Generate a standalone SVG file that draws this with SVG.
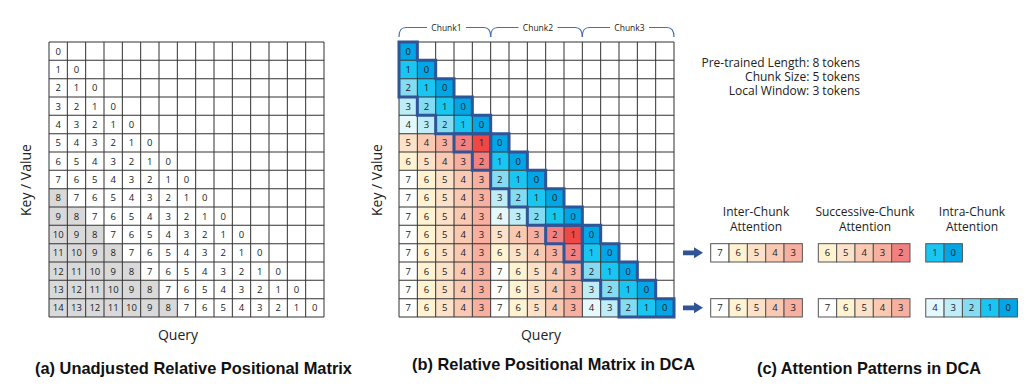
<svg xmlns="http://www.w3.org/2000/svg" width="1024" height="392" viewBox="0 0 1024 392">
<style>
.grid{fill:none;stroke:#333;stroke-width:0.55}
.num{font-family:"Open Sans","Noto Sans",sans-serif;font-size:5.2px;fill:#222;text-anchor:middle}
.b0{fill:#02A6E6}.b1{fill:#19C6F2}.b2{fill:#85DBF2}.b3{fill:#BEEDF8}.b4{fill:#E5F8FC}
.w1{fill:#EF4646}.w2{fill:#F28080}.w3{fill:#F7AFA0}.w4{fill:#FAC9B2}.w5{fill:#FDE2CA}.w6{fill:#FFF3D2}.w7{fill:#FFFFFF}
.gr{fill:#D9D9D9}
.band{fill:none;stroke:#2F5597;stroke-width:1.65;stroke-linejoin:miter}
.bx{stroke:#555;stroke-width:0.55}
.lbl{font-family:"Open Sans","Noto Sans",sans-serif;font-size:14px;fill:#222;text-anchor:middle}
.info{font-family:"Open Sans","Noto Sans",sans-serif;font-size:12px;fill:#222;text-anchor:end}
.hdr{font-family:"Open Sans","Noto Sans",sans-serif;font-size:12px;fill:#222;text-anchor:middle}
.chunk{font-family:"Open Sans","Noto Sans",sans-serif;font-size:8.5px;fill:#222;text-anchor:middle}
.brace{fill:none;stroke:#4A6CA8;stroke-width:1.2}
.cap{font-family:"Liberation Sans Narrow","Arial Narrow","Liberation Sans",sans-serif;font-weight:bold;font-size:17px;fill:#111}
.arrow{fill:#2F5597}
</style>
<rect width="1024" height="392" fill="#fff"/>

<g id="panel-a">
<g transform="translate(49,42) scale(1.83333)">
<path class="gr" d="M0 80h10v10h10v10h10v10h10v10h10v10h10v10h10v10h-70z"/>
<path class="grid" d="M0 0H150M0 10H150M0 20H150M0 30H150M0 40H150M0 50H150M0 60H150M0 70H150M0 80H150M0 90H150M0 100H150M0 110H150M0 120H150M0 130H150M0 140H150M0 150H150M0 0V150M10 0V150M20 0V150M30 0V150M40 0V150M50 0V150M60 0V150M70 0V150M80 0V150M90 0V150M100 0V150M110 0V150M120 0V150M130 0V150M140 0V150M150 0V150"/>
<g class="num">
<text y="6.9"><tspan x="5">0</tspan></text>
<text y="16.9"><tspan x="5">1</tspan><tspan x="15">0</tspan></text>
<text y="26.9"><tspan x="5">2</tspan><tspan x="15">1</tspan><tspan x="25">0</tspan></text>
<text y="36.9"><tspan x="5">3</tspan><tspan x="15">2</tspan><tspan x="25">1</tspan><tspan x="35">0</tspan></text>
<text y="46.9"><tspan x="5">4</tspan><tspan x="15">3</tspan><tspan x="25">2</tspan><tspan x="35">1</tspan><tspan x="45">0</tspan></text>
<text y="56.9"><tspan x="5">5</tspan><tspan x="15">4</tspan><tspan x="25">3</tspan><tspan x="35">2</tspan><tspan x="45">1</tspan><tspan x="55">0</tspan></text>
<text y="66.9"><tspan x="5">6</tspan><tspan x="15">5</tspan><tspan x="25">4</tspan><tspan x="35">3</tspan><tspan x="45">2</tspan><tspan x="55">1</tspan><tspan x="65">0</tspan></text>
<text y="76.9"><tspan x="5">7</tspan><tspan x="15">6</tspan><tspan x="25">5</tspan><tspan x="35">4</tspan><tspan x="45">3</tspan><tspan x="55">2</tspan><tspan x="65">1</tspan><tspan x="75">0</tspan></text>
<text y="86.9"><tspan x="5">8</tspan><tspan x="15">7</tspan><tspan x="25">6</tspan><tspan x="35">5</tspan><tspan x="45">4</tspan><tspan x="55">3</tspan><tspan x="65">2</tspan><tspan x="75">1</tspan><tspan x="85">0</tspan></text>
<text y="96.9"><tspan x="5">9</tspan><tspan x="15">8</tspan><tspan x="25">7</tspan><tspan x="35">6</tspan><tspan x="45">5</tspan><tspan x="55">4</tspan><tspan x="65">3</tspan><tspan x="75">2</tspan><tspan x="85">1</tspan><tspan x="95">0</tspan></text>
<text y="106.9"><tspan x="5">10</tspan><tspan x="15">9</tspan><tspan x="25">8</tspan><tspan x="35">7</tspan><tspan x="45">6</tspan><tspan x="55">5</tspan><tspan x="65">4</tspan><tspan x="75">3</tspan><tspan x="85">2</tspan><tspan x="95">1</tspan><tspan x="105">0</tspan></text>
<text y="116.9"><tspan x="5">11</tspan><tspan x="15">10</tspan><tspan x="25">9</tspan><tspan x="35">8</tspan><tspan x="45">7</tspan><tspan x="55">6</tspan><tspan x="65">5</tspan><tspan x="75">4</tspan><tspan x="85">3</tspan><tspan x="95">2</tspan><tspan x="105">1</tspan><tspan x="115">0</tspan></text>
<text y="126.9"><tspan x="5">12</tspan><tspan x="15">11</tspan><tspan x="25">10</tspan><tspan x="35">9</tspan><tspan x="45">8</tspan><tspan x="55">7</tspan><tspan x="65">6</tspan><tspan x="75">5</tspan><tspan x="85">4</tspan><tspan x="95">3</tspan><tspan x="105">2</tspan><tspan x="115">1</tspan><tspan x="125">0</tspan></text>
<text y="136.9"><tspan x="5">13</tspan><tspan x="15">12</tspan><tspan x="25">11</tspan><tspan x="35">10</tspan><tspan x="45">9</tspan><tspan x="55">8</tspan><tspan x="65">7</tspan><tspan x="75">6</tspan><tspan x="85">5</tspan><tspan x="95">4</tspan><tspan x="105">3</tspan><tspan x="115">2</tspan><tspan x="125">1</tspan><tspan x="135">0</tspan></text>
<text y="146.9"><tspan x="5">14</tspan><tspan x="15">13</tspan><tspan x="25">12</tspan><tspan x="35">11</tspan><tspan x="45">10</tspan><tspan x="55">9</tspan><tspan x="65">8</tspan><tspan x="75">7</tspan><tspan x="85">6</tspan><tspan x="95">5</tspan><tspan x="105">4</tspan><tspan x="115">3</tspan><tspan x="125">2</tspan><tspan x="135">1</tspan><tspan x="145">0</tspan></text>
</g>
</g>
<text class="lbl" transform="translate(31,180) rotate(-90)">Key / Value</text>
<text class="lbl" x="178" y="340">Query</text>
<text class="cap" x="35" y="374" textLength="317" lengthAdjust="spacingAndGlyphs">(a) Unadjusted Relative Positional Matrix</text>
</g>

<g id="panel-b">
<g id="chunk-braces">
<path class="brace" d="M399 37C399 31 400.5 27.5 406 27.5H427M466 27.5H484C489.2 27.5 490.7 31 490.7 37"/>
<path class="brace" d="M490.7 37C490.7 31 492.2 27.5 497.7 27.5H518.5M557.5 27.5H575.3C580.8 27.5 582.3 31 582.3 37"/>
<path class="brace" d="M582.3 37C582.3 31 583.8 27.5 589.3 27.5H610M649 27.5H667C672.5 27.5 674 31 674 37"/>
<text class="chunk" x="446.5" y="30.5">Chunk1</text>
<text class="chunk" x="538" y="30.5">Chunk2</text>
<text class="chunk" x="629.5" y="30.5">Chunk3</text>
</g>
<g transform="translate(399,42) scale(1.83333)">
<path class="b0" d="M0 0h10v10h-10zM10 10h10v10h-10zM20 20h10v10h-10zM30 30h10v10h-10zM40 40h10v10h-10zM50 50h10v10h-10zM60 60h10v10h-10zM70 70h10v10h-10zM80 80h10v10h-10zM90 90h10v10h-10zM100 100h10v10h-10zM110 110h10v10h-10zM120 120h10v10h-10zM130 130h10v10h-10zM140 140h10v10h-10z"/>
<path class="b1" d="M0 10h10v10h-10zM10 20h10v10h-10zM20 30h10v10h-10zM30 40h10v10h-10zM50 60h10v10h-10zM60 70h10v10h-10zM70 80h10v10h-10zM80 90h10v10h-10zM100 110h10v10h-10zM110 120h10v10h-10zM120 130h10v10h-10zM130 140h10v10h-10z"/>
<path class="b2" d="M0 20h10v10h-10zM10 30h10v10h-10zM20 40h10v10h-10zM50 70h10v10h-10zM60 80h10v10h-10zM70 90h10v10h-10zM100 120h10v10h-10zM110 130h10v10h-10zM120 140h10v10h-10z"/>
<path class="b3" d="M0 30h10v10h-10zM10 40h10v10h-10zM50 80h10v10h-10zM60 90h10v10h-10zM100 130h10v10h-10zM110 140h10v10h-10z"/>
<path class="b4" d="M0 40h10v10h-10zM50 90h10v10h-10zM100 140h10v10h-10z"/>
<path class="w1" d="M40 50h10v10h-10zM90 100h10v10h-10z"/>
<path class="w2" d="M30 50h10v10h-10zM40 60h10v10h-10zM80 100h10v10h-10zM90 110h10v10h-10z"/>
<path class="w3" d="M20 50h10v10h-10zM30 60h10v10h-10zM40 70h10v80h-10zM70 100h10v10h-10zM80 110h10v10h-10zM90 120h10v30h-10z"/>
<path class="w4" d="M10 50h10v10h-10zM20 60h10v10h-10zM30 70h10v80h-10zM60 100h10v10h-10zM70 110h10v10h-10zM80 120h10v30h-10z"/>
<path class="w5" d="M0 50h10v10h-10zM10 60h10v10h-10zM20 70h10v80h-10zM50 100h10v10h-10zM60 110h10v10h-10zM70 120h10v30h-10z"/>
<path class="w6" d="M0 60h10v10h-10zM10 70h10v80h-10zM50 110h10v10h-10zM60 120h10v30h-10z"/>
<path class="grid" d="M0 0H150M0 10H150M0 20H150M0 30H150M0 40H150M0 50H150M0 60H150M0 70H150M0 80H150M0 90H150M0 100H150M0 110H150M0 120H150M0 130H150M0 140H150M0 150H150M0 0V150M10 0V150M20 0V150M30 0V150M40 0V150M50 0V150M60 0V150M70 0V150M80 0V150M90 0V150M100 0V150M110 0V150M120 0V150M130 0V150M140 0V150M150 0V150"/>
<g id="local-window">
<path class="band" d="M0 0H10V10H20V20H30V30H40V40H50V50H20V40H10V30H0Z"/>
<path class="band" d="M50 50H60V60H70V70H80V80H90V90H100V100H70V90H60V80H50Z"/>
<path class="band" d="M100 100H110V110H120V120H130V130H140V140H150V150H120V140H110V130H100Z"/>
<path class="band" d="M30 50H50V70H40V60H30Z"/>
<path class="band" d="M80 100H100V120H90V110H80Z"/>
</g>
<g class="num">
<text y="6.9"><tspan x="5">0</tspan></text>
<text y="16.9"><tspan x="5">1</tspan><tspan x="15">0</tspan></text>
<text y="26.9"><tspan x="5">2</tspan><tspan x="15">1</tspan><tspan x="25">0</tspan></text>
<text y="36.9"><tspan x="5">3</tspan><tspan x="15">2</tspan><tspan x="25">1</tspan><tspan x="35">0</tspan></text>
<text y="46.9"><tspan x="5">4</tspan><tspan x="15">3</tspan><tspan x="25">2</tspan><tspan x="35">1</tspan><tspan x="45">0</tspan></text>
<text y="56.9"><tspan x="5">5</tspan><tspan x="15">4</tspan><tspan x="25">3</tspan><tspan x="35">2</tspan><tspan x="45">1</tspan><tspan x="55">0</tspan></text>
<text y="66.9"><tspan x="5">6</tspan><tspan x="15">5</tspan><tspan x="25">4</tspan><tspan x="35">3</tspan><tspan x="45">2</tspan><tspan x="55">1</tspan><tspan x="65">0</tspan></text>
<text y="76.9"><tspan x="5">7</tspan><tspan x="15">6</tspan><tspan x="25">5</tspan><tspan x="35">4</tspan><tspan x="45">3</tspan><tspan x="55">2</tspan><tspan x="65">1</tspan><tspan x="75">0</tspan></text>
<text y="86.9"><tspan x="5">7</tspan><tspan x="15">6</tspan><tspan x="25">5</tspan><tspan x="35">4</tspan><tspan x="45">3</tspan><tspan x="55">3</tspan><tspan x="65">2</tspan><tspan x="75">1</tspan><tspan x="85">0</tspan></text>
<text y="96.9"><tspan x="5">7</tspan><tspan x="15">6</tspan><tspan x="25">5</tspan><tspan x="35">4</tspan><tspan x="45">3</tspan><tspan x="55">4</tspan><tspan x="65">3</tspan><tspan x="75">2</tspan><tspan x="85">1</tspan><tspan x="95">0</tspan></text>
<text y="106.9"><tspan x="5">7</tspan><tspan x="15">6</tspan><tspan x="25">5</tspan><tspan x="35">4</tspan><tspan x="45">3</tspan><tspan x="55">5</tspan><tspan x="65">4</tspan><tspan x="75">3</tspan><tspan x="85">2</tspan><tspan x="95">1</tspan><tspan x="105">0</tspan></text>
<text y="116.9"><tspan x="5">7</tspan><tspan x="15">6</tspan><tspan x="25">5</tspan><tspan x="35">4</tspan><tspan x="45">3</tspan><tspan x="55">6</tspan><tspan x="65">5</tspan><tspan x="75">4</tspan><tspan x="85">3</tspan><tspan x="95">2</tspan><tspan x="105">1</tspan><tspan x="115">0</tspan></text>
<text y="126.9"><tspan x="5">7</tspan><tspan x="15">6</tspan><tspan x="25">5</tspan><tspan x="35">4</tspan><tspan x="45">3</tspan><tspan x="55">7</tspan><tspan x="65">6</tspan><tspan x="75">5</tspan><tspan x="85">4</tspan><tspan x="95">3</tspan><tspan x="105">2</tspan><tspan x="115">1</tspan><tspan x="125">0</tspan></text>
<text y="136.9"><tspan x="5">7</tspan><tspan x="15">6</tspan><tspan x="25">5</tspan><tspan x="35">4</tspan><tspan x="45">3</tspan><tspan x="55">7</tspan><tspan x="65">6</tspan><tspan x="75">5</tspan><tspan x="85">4</tspan><tspan x="95">3</tspan><tspan x="105">3</tspan><tspan x="115">2</tspan><tspan x="125">1</tspan><tspan x="135">0</tspan></text>
<text y="146.9"><tspan x="5">7</tspan><tspan x="15">6</tspan><tspan x="25">5</tspan><tspan x="35">4</tspan><tspan x="45">3</tspan><tspan x="55">7</tspan><tspan x="65">6</tspan><tspan x="75">5</tspan><tspan x="85">4</tspan><tspan x="95">3</tspan><tspan x="105">4</tspan><tspan x="115">3</tspan><tspan x="125">2</tspan><tspan x="135">1</tspan><tspan x="145">0</tspan></text>
</g>
</g>
<text class="lbl" transform="translate(382,180) rotate(-90)">Key / Value</text>
<text class="lbl" x="541" y="340">Query</text>
<text class="cap" x="412" y="370" textLength="283" lengthAdjust="spacingAndGlyphs">(b) Relative Positional Matrix in DCA</text>
</g>

<g id="info-text">
<text class="info" x="860" y="66.7">Pre-trained Length: 8 tokens</text>
<text class="info" x="860" y="81">Chunk Size: 5 tokens</text>
<text class="info" x="860" y="95.3">Local Window: 3 tokens</text>
</g>

<g id="panel-c">
<g id="headers">
<text class="hdr" x="756" y="215.5">Inter-Chunk</text>
<text class="hdr" x="756" y="230.5">Attention</text>
<text class="hdr" x="865" y="215.5">Successive-Chunk</text>
<text class="hdr" x="865" y="230.5">Attention</text>
<text class="hdr" x="972" y="215.5">Intra-Chunk</text>
<text class="hdr" x="972" y="230.5">Attention</text>
</g>
<g id="patterns" transform="translate(710.7,243.67) scale(1.83333)">
<g id="row-11">
<rect class="w7 bx" x="0" y="0" width="10" height="10"/><rect class="w6 bx" x="10" y="0" width="10" height="10"/><rect class="w5 bx" x="20" y="0" width="10" height="10"/><rect class="w4 bx" x="30" y="0" width="10" height="10"/><rect class="w3 bx" x="40" y="0" width="10" height="10"/>
<rect class="w6 bx" x="58.7" y="0" width="10" height="10"/><rect class="w5 bx" x="68.7" y="0" width="10" height="10"/><rect class="w4 bx" x="78.7" y="0" width="10" height="10"/><rect class="w3 bx" x="88.7" y="0" width="10" height="10"/><rect class="w2 bx" x="98.7" y="0" width="10" height="10"/>
<rect class="b1 bx" x="117.3" y="0" width="10" height="10"/><rect class="b0 bx" x="127.3" y="0" width="10" height="10"/>
<text class="num" y="6.9"><tspan x="5">7</tspan><tspan x="15">6</tspan><tspan x="25">5</tspan><tspan x="35">4</tspan><tspan x="45">3</tspan><tspan x="63.7">6</tspan><tspan x="73.7">5</tspan><tspan x="83.7">4</tspan><tspan x="93.7">3</tspan><tspan x="103.7">2</tspan><tspan x="122.3">1</tspan><tspan x="132.3">0</tspan></text>
</g>
<g id="row-14">
<rect class="w7 bx" x="0" y="30" width="10" height="10"/><rect class="w6 bx" x="10" y="30" width="10" height="10"/><rect class="w5 bx" x="20" y="30" width="10" height="10"/><rect class="w4 bx" x="30" y="30" width="10" height="10"/><rect class="w3 bx" x="40" y="30" width="10" height="10"/>
<rect class="w7 bx" x="58.7" y="30" width="10" height="10"/><rect class="w6 bx" x="68.7" y="30" width="10" height="10"/><rect class="w5 bx" x="78.7" y="30" width="10" height="10"/><rect class="w4 bx" x="88.7" y="30" width="10" height="10"/><rect class="w3 bx" x="98.7" y="30" width="10" height="10"/>
<rect class="b4 bx" x="117.3" y="30" width="10" height="10"/><rect class="b3 bx" x="127.3" y="30" width="10" height="10"/><rect class="b2 bx" x="137.3" y="30" width="10" height="10"/><rect class="b1 bx" x="147.3" y="30" width="10" height="10"/><rect class="b0 bx" x="157.3" y="30" width="10" height="10"/>
<text class="num" y="36.9"><tspan x="5">7</tspan><tspan x="15">6</tspan><tspan x="25">5</tspan><tspan x="35">4</tspan><tspan x="45">3</tspan><tspan x="63.7">7</tspan><tspan x="73.7">6</tspan><tspan x="83.7">5</tspan><tspan x="93.7">4</tspan><tspan x="103.7">3</tspan><tspan x="122.3">4</tspan><tspan x="132.3">3</tspan><tspan x="142.3">2</tspan><tspan x="152.3">1</tspan><tspan x="162.3">0</tspan></text>
</g>
</g>
<text class="cap" x="757" y="374" textLength="224" lengthAdjust="spacingAndGlyphs">(c) Attention Patterns in DCA</text>
</g>

<g id="connectors">
<path class="arrow" d="M683 250.4H694V247.3L703 252.8L694 258.3V255.2H683Z"/>
<path class="arrow" d="M683 305.4H694V302.3L703 307.8L694 313.3V310.2H683Z"/>
</g>
</svg>
